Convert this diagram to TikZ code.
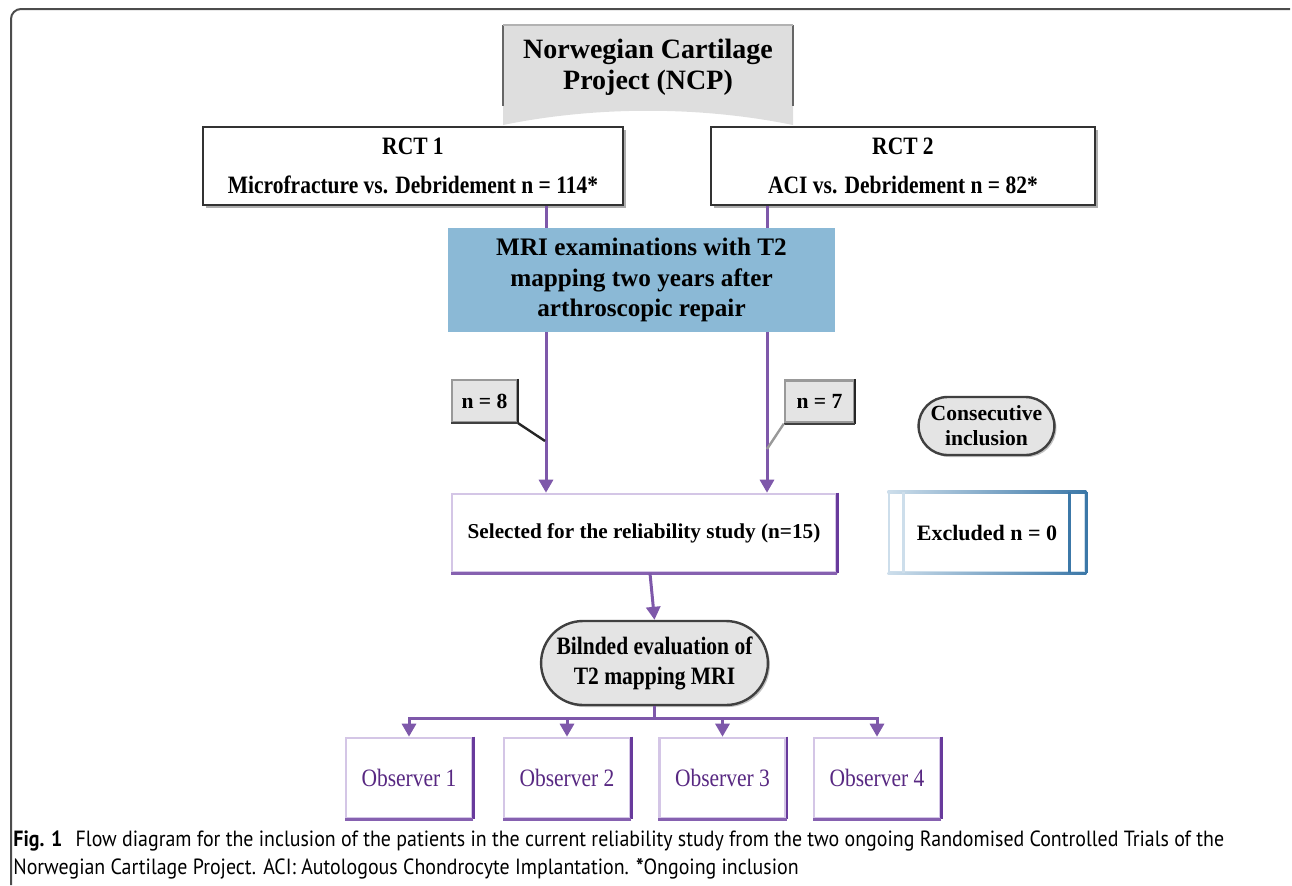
\documentclass[tikz,border=0pt]{standalone}
\usepackage{fontspec}
\setmainfont{Liberation Serif}
\newfontfamily\narrowfont{Liberation Serif}[FakeStretch=0.86]
\newfontfamily\capfont{PT Sans}[FakeStretch=0.905]
\usetikzlibrary{arrows.meta, positioning, shapes.misc, shadows, calc}
\definecolor{flowPurple}{RGB}{126,88,170}
\definecolor{obsLight}{RGB}{212,198,230}
\definecolor{obsDark}{RGB}{104,58,156}
\definecolor{obsText}{RGB}{88,40,130}
\definecolor{mriBlue}{RGB}{139,185,214}
\definecolor{exclLight}{RGB}{205,222,235}
\definecolor{exclDark}{RGB}{60,120,168}
\definecolor{ncpGray}{RGB}{222,222,222}
\definecolor{boxGray}{RGB}{228,228,228}
\tikzset{
    rctBox/.style={draw=black!80, fill=white, line width=0.8pt, minimum height=39pt, align=center,
        font=\narrowfont\bfseries\fontsize{12.5}{15}\selectfont,
        drop shadow={shadow xshift=1.5pt, shadow yshift=-1.5pt, fill=black!45, opacity=0.7}},
    mriBox/.style={fill=mriBlue, minimum width=193.5pt, minimum height=52pt, align=center,
        font=\bfseries\fontsize{12.6}{15.3}\selectfont},
    nBox/.style={draw=black!40, fill=boxGray, line width=1.2pt, minimum height=21pt,
        font=\bfseries\fontsize{10.8}{13}\selectfont,
        append after command={(\tikzlastnode.north east) edge[black!85, line width=1.2pt] (\tikzlastnode.south east)
            (\tikzlastnode.south east) edge[black!75, line width=1.2pt] (\tikzlastnode.south west)}},
    pillBox/.style={rounded rectangle, draw=black!75, fill=boxGray, line width=1.2pt, align=center,
        drop shadow={shadow xshift=1pt, shadow yshift=-1pt, fill=black!40, opacity=0.6}},
    purpleBox/.style={draw=obsLight, fill=white, line width=1.3pt,
        append after command={(\tikzlastnode.north east) edge[obsDark, line width=1.3pt] (\tikzlastnode.south east)
            (\tikzlastnode.south east) edge[obsDark!80, line width=1.3pt] (\tikzlastnode.south west)}},
    obsBox/.style={purpleBox, minimum width=63pt, minimum height=40pt,
        font=\narrowfont\fontsize{12.5}{15}\selectfont, text=obsText},
    flowLine/.style={draw=flowPurple, line width=1.5pt},
    flowArrow/.style={flowLine, ->}
}

\begin{document}
\begin{tikzpicture}[x=0.5pt, y=-0.5pt, >={Triangle[length=6.5pt, width=7pt]}]
    \useasboundingbox (0,0) rectangle (1292,885);
    \draw[black!70, line width=1pt, rounded corners=5pt] (11,885) -- (11,9) -- (1290,9);

    % banner on top
    \fill[ncpGray] (503,25) -- (793,25) -- (793,125) .. controls (700,106) and (596,106) .. (503,125) -- cycle;
    \draw[black!60, line width=1pt] (503,25) -- (503,106) (793,25) -- (793,106);
    \draw[black!30, line width=0.6pt] (503,25) -- (793,25);
    \node[align=center, font=\bfseries\fontsize{14}{15.5}\selectfont] (ncp) at (648,67) {Norwegian Cartilage\\Project (NCP)};

    \node[rctBox, minimum width=210pt] (rct1) at (413,166) {RCT 1\\[4.5pt]Microfracture vs. Debridement n = 114*};
    \node[rctBox, minimum width=192pt] (rct2) at (903,166) {RCT 2\\[4.5pt]ACI vs. Debridement n = 82*};

    \coordinate (colL) at (546,0);  \coordinate (colR) at (767,0);
    \node[mriBox] (mri) at (641.5,280) {MRI examinations with T2\\mapping two years after\\arthroscopic repair};
    \draw[flowLine] (rct1.south -| colL) -- (mri.north -| colL);
    \draw[flowLine] (rct2.south -| colR) -- (mri.north -| colR);

    \node[purpleBox, minimum width=192pt, minimum height=39pt, font=\bfseries\fontsize{10.6}{13}\selectfont,
        drop shadow={shadow xshift=1.2pt, shadow yshift=-1.2pt, fill=black!30, opacity=0.6}] (sel) at (644,533)
        {Selected for the reliability study (n=15)};
    \draw[flowArrow] (mri.south -| colL) -- (sel.north -| colL);
    \draw[flowArrow] (mri.south -| colR) -- (sel.north -| colR);

    \node[nBox, minimum width=32.5pt] (n8) at (484.5,401) {n = 8};
    \node[nBox, minimum width=34.5pt] (n7) at (819.5,401.5) {n = 7};
    \coordinate (tip8) at (545,441);  \coordinate (tip7) at (767,449);
    \draw[black!85, line width=1.2pt] (n8.south east) -- (tip8);
    \draw[black!40, line width=1.2pt] (n7.south west) -- (tip7);

    \node[pillBox, minimum width=65.5pt, minimum height=29pt, inner xsep=2pt,
        font=\bfseries\fontsize{10.8}{12.5}\selectfont] (consec) at (986.5,426) {Consecutive\\inclusion};

    \node[draw=exclLight, fill=white, line width=1.3pt, minimum width=98pt, minimum height=39.5pt,
        font=\bfseries\fontsize{11}{13}\selectfont] (excl) at (987,532.5) {Excluded n = 0};
    \shade[left color=exclLight, right color=exclDark] ($(excl.north west)+(0,-1.3)$) rectangle ($(excl.north east)+(0,1.3)$);
    \shade[left color=exclLight, right color=exclDark] ($(excl.south west)+(0,-1.3)$) rectangle ($(excl.south east)+(0,1.3)$);
    \draw[exclLight, line width=1.3pt] ($(excl.north west)+(16,0)$) -- ($(excl.south west)+(16,0)$);
    \draw[exclDark, line width=1.3pt] ($(excl.north east)+(-17,0)$) -- ($(excl.south east)+(-17,0)$)
        (excl.north east) -- (excl.south east);

    \node[pillBox, minimum width=107.5pt, minimum height=42pt, inner xsep=3pt,
        font=\narrowfont\bfseries\fontsize{12.5}{15}\selectfont] (blind) at (654.5,663)
        {Bilnded evaluation of\\T2 mapping MRI};
    \draw[flowArrow] (sel.south) ++(6,0) -- (blind.north);

    \node[obsBox] (obs1) at (409,778) {Observer 1};
    \node[obsBox] (obs2) at (567,778) {Observer 2};
    \node[obsBox] (obs3) at (722.5,778) {Observer 3};
    \node[obsBox] (obs4) at (877,778) {Observer 4};
    \coordinate (bus) at (654.5,718);
    \draw[flowLine] (blind.south) -- (bus);
    \foreach \i in {1,...,4}
        \draw[flowArrow] (bus) -| (obs\i.north);

    \node[anchor=north west, align=left, inner sep=0pt, font=\capfont\fontsize{11}{14}\selectfont] (cap) at (13,830)
        {\textbf{Fig. 1}\hspace{0.6em}Flow diagram for the inclusion of the patients in the current reliability study from the two ongoing Randomised Controlled Trials of the\\
         Norwegian Cartilage Project. ACI: Autologous Chondrocyte Implantation. \textbf{*}Ongoing inclusion};
\end{tikzpicture}
\end{document}
